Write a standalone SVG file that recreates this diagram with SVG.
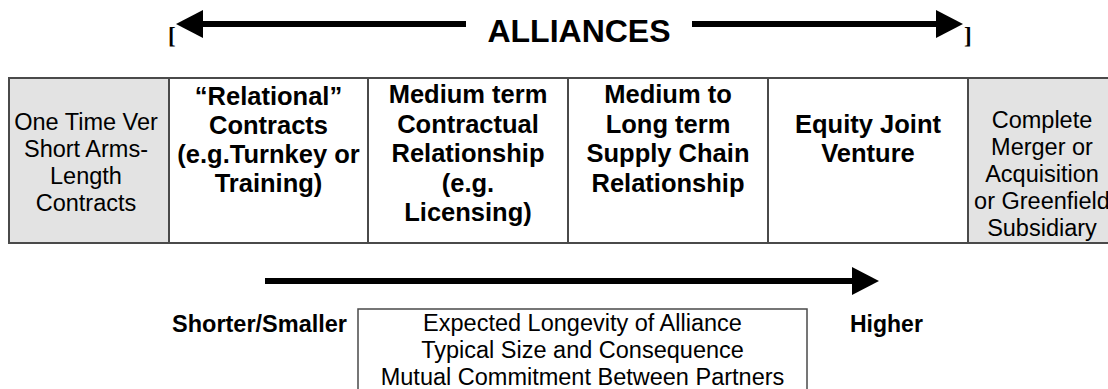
<svg xmlns="http://www.w3.org/2000/svg" width="1108" height="389" viewBox="0 0 1108 389">
<defs>
<marker id="head" markerUnits="userSpaceOnUse" markerWidth="28" markerHeight="28" refX="0" refY="14" orient="auto" overflow="visible">
<path d="M0,0 L27,14 L0,28 Z" fill="#000"/>
</marker>
<style>
.cell{stroke:#4a4a4a;stroke-width:2}
.white{fill:#fff}
.gray{fill:#e3e3e3}
.b{font-family:"Liberation Sans",Arial,sans-serif;font-weight:bold;font-size:25.5px;fill:#000;text-anchor:middle}
.r{font-family:"Liberation Sans",Arial,sans-serif;font-size:23.5px;fill:#000;text-anchor:middle}
.arrow{stroke:#000;stroke-width:6;fill:none;marker-end:url(#head)}
.brk{font-family:"Liberation Serif","Times New Roman",serif;font-weight:bold;font-size:23px;fill:#000}
</style>
</defs>
<rect width="1108" height="389" fill="#fff"/>

<g id="connectors">
<line class="arrow" x1="466" y1="24" x2="203" y2="24"/>
<line class="arrow" x1="692" y1="24" x2="936" y2="24"/>
<line class="arrow" x1="265" y1="281" x2="852" y2="281"/>
</g>

<g id="alliances-title">
<text x="168" y="43" class="brk">[</text>
<text x="579" y="42" style="font-family:'Liberation Sans',Arial,sans-serif;font-weight:bold;font-size:32px;text-anchor:middle">ALLIANCES</text>
<text x="964" y="43" class="brk">]</text>
</g>

<g id="cell-arms-length">
<rect class="cell gray" x="9" y="78" width="160" height="165"/>
<text class="r" x="86" y="130">One Time Ver</text>
<text class="r" x="86" y="157">Short Arms-</text>
<text class="r" x="86" y="184">Length</text>
<text class="r" x="86" y="211">Contracts</text>
</g>

<g id="cell-relational">
<rect class="cell white" x="169" y="78" width="199" height="165"/>
<text class="b" x="268.5" y="105">“Relational”</text>
<text class="b" x="268.5" y="134">Contracts</text>
<text class="b" x="268.5" y="163">(e.g.Turnkey or</text>
<text class="b" x="268.5" y="192">Training)</text>
</g>

<g id="cell-medium-term">
<rect class="cell white" x="368" y="78" width="200" height="165"/>
<text class="b" x="468" y="103">Medium term</text>
<text class="b" x="468" y="132.5">Contractual</text>
<text class="b" x="468" y="162">Relationship</text>
<text class="b" x="468" y="191.5">(e.g.</text>
<text class="b" x="468" y="221">Licensing)</text>
</g>

<g id="cell-supply-chain">
<rect class="cell white" x="568" y="78" width="200" height="165"/>
<text class="b" x="668" y="103">Medium to</text>
<text class="b" x="668" y="133">Long term</text>
<text class="b" x="668" y="162">Supply Chain</text>
<text class="b" x="668" y="192">Relationship</text>
</g>

<g id="cell-equity-jv">
<rect class="cell white" x="768" y="78" width="200" height="165"/>
<text class="b" x="868" y="133">Equity Joint</text>
<text class="b" x="868" y="162">Venture</text>
</g>

<g id="cell-merger">
<rect class="cell gray" x="968" y="78" width="160" height="165"/>
<text class="r" x="1042" y="128">Complete</text>
<text class="r" x="1042" y="155">Merger or</text>
<text class="r" x="1042" y="182">Acquisition</text>
<text class="r" x="1042" y="209">or Greenfield</text>
<text class="r" x="1042" y="236">Subsidiary</text>
</g>

<g id="label-shorter">
<text x="172" y="332" style="font-family:'Liberation Sans',Arial,sans-serif;font-weight:bold;font-size:23.5px">Shorter/Smaller</text>
</g>

<g id="dimensions-box">
<rect x="358" y="309" width="449" height="100" fill="#fff" stroke="#4a4a4a" stroke-width="1.5"/>
<text class="r" x="582.5" y="331">Expected Longevity of Alliance</text>
<text class="r" x="582.5" y="358">Typical Size and Consequence</text>
<text class="r" x="582.5" y="385">Mutual Commitment Between Partners</text>
</g>

<g id="label-higher">
<text x="850" y="332" style="font-family:'Liberation Sans',Arial,sans-serif;font-weight:bold;font-size:23px">Higher</text>
</g>
</svg>
